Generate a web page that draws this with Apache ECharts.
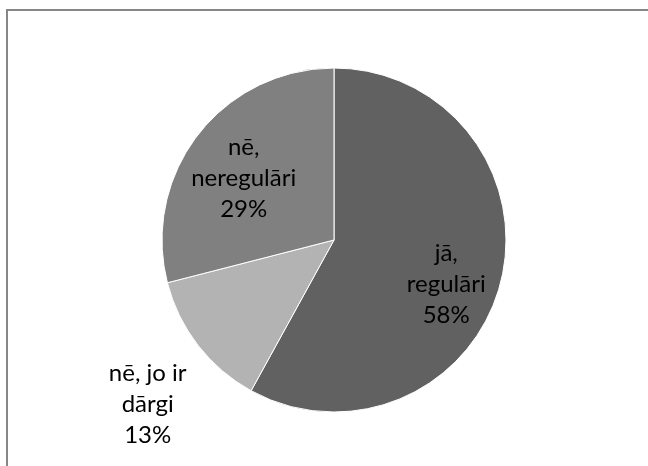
<!DOCTYPE html>
<html>
<head>
<meta charset="utf-8">
<script src="https://cdn.jsdelivr.net/npm/echarts@6/dist/echarts.min.js"></script>
<style>
    html, body { margin: 0; padding: 0; background: #ffffff; }
    #chart { width: 648px; height: 466px; }
</style>
</head>
<body>
<div id="chart"></div>
<script>
    // slices, clockwise from 12 o'clock
    var categories = ['jā,\nregulāri', 'nē, jo ir\ndārgi', 'nē,\nneregulāri'];
    var values = [58, 13, 29];
    var colors = ['#616161', '#b3b3b3', '#808080'];
    // nudge of each label away from the default "inside" spot (Excel-like placement)
    var labelShift = [[26, 22], [-116, 110], [-20, -7]];

    var pieData = categories.map(function (name, i) {
        return { name: name, value: values[i], itemStyle: { color: colors[i] } };
    });

    var myChart = echarts.init(document.getElementById('chart'));
    myChart.setOption({
        animation: false,
        backgroundColor: '#ffffff',
        graphic: [{
            type: 'polyline',
            shape: { points: [[7, 466], [7, 10], [648, 10]] },
            style: { stroke: '#878787', lineWidth: 2, fill: null },
            silent: true
        }],
        series: [{
            type: 'pie',
            center: [334, 240],
            radius: 172,
            startAngle: 90,
            clockwise: true,
            data: pieData,
            itemStyle: { borderColor: '#ffffff', borderWidth: 1 },
            label: {
                show: true,
                position: 'inside',
                formatter: function (p) { return p.name + '\n' + Math.round(p.percent) + '%'; },
                fontFamily: 'Lato',
                fontSize: 24,
                lineHeight: 31,
                color: '#000000',
                align: 'center'
            },
            labelLine: { show: false },
            labelLayout: function (params) {
                var s = labelShift[params.dataIndex];
                return { dx: s[0], dy: s[1] };
            },
            emphasis: { disabled: true }
        }]
    });
</script>
</body>
</html>
